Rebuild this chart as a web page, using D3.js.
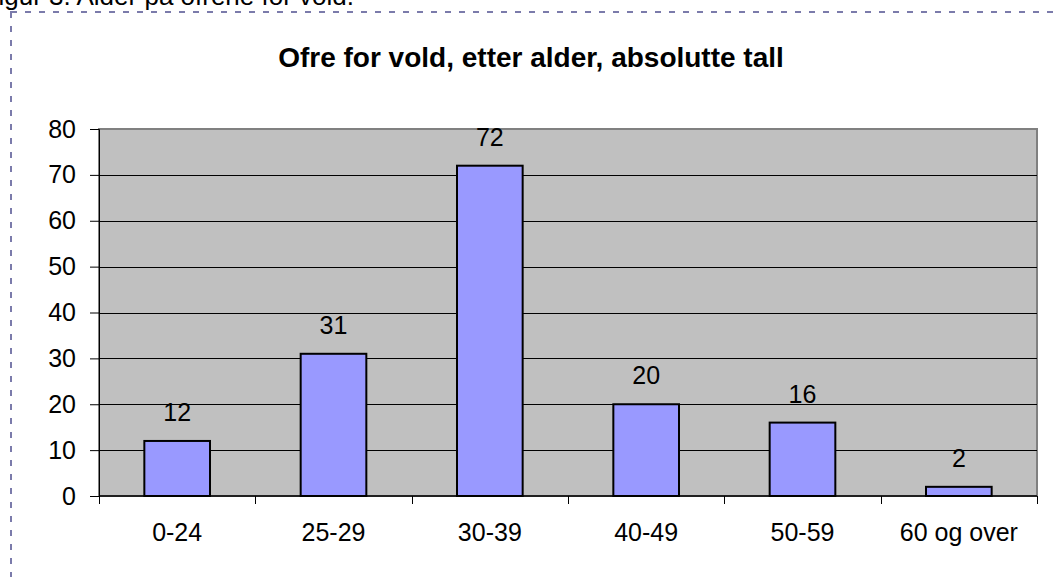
<!DOCTYPE html>
<html>
<head>
<meta charset="utf-8">
<script src="https://cdn.jsdelivr.net/npm/d3@7"></script>
<style>
  body { margin: 0; background: #fff; }
  svg { display: block; font-family: Arial, "Liberation Sans", sans-serif; }
</style>
</head>
<body>
<div id="chart"></div>
<script>
const categories = ["0-24", "25-29", "30-39", "40-49", "50-59", "60 og over"];
const values = [12, 31, 72, 20, 16, 2];
const yTicks = [0, 10, 20, 30, 40, 50, 60, 70, 80];
const title = "Ofre for vold, etter alder, absolutte tall";
const caption = "Figur 3. Alder på ofrene for vold.";

const W = 1059, H = 577;
const margin = { top: 129, right: 22, bottom: 81, left: 99 };
const width = W - margin.left - margin.right;
const height = H - margin.top - margin.bottom;
const fs = 25;

const svg = d3.select("#chart").append("svg")
  .attr("width", W)
  .attr("height", H);

// caption, cut at the top edge as in the document
svg.append("text")
  .attr("x", 354)
  .attr("y", 5)
  .attr("text-anchor", "end")
  .attr("font-size", 26)
  .text(caption);

// dashed frame of the embedded chart
svg.append("rect")
  .attr("x", 11)
  .attr("y", 12)
  .attr("width", W + 20)
  .attr("height", H + 20)
  .attr("fill", "none")
  .attr("stroke", "#7b7bab")
  .attr("stroke-width", 2)
  .attr("stroke-dasharray", "6,8");

svg.append("text")
  .attr("x", 531)
  .attr("y", 67)
  .attr("text-anchor", "middle")
  .attr("font-size", 28)
  .attr("font-weight", "bold")
  .text(title);

const g = svg.append("g")
  .attr("transform", `translate(${margin.left},${margin.top})`);

const x = d3.scaleBand().domain(categories).range([0, width]).paddingInner(0.58).paddingOuter(0.29);
const band = d3.scaleBand().domain(categories).range([0, width]);
const y = d3.scaleLinear().domain([0, 80]).range([height, 0]);

// plot area
g.append("rect")
  .attr("width", width)
  .attr("height", height)
  .attr("fill", "#c0c0c0")
  .attr("stroke", "#808080")
  .attr("stroke-width", 2);

// gridlines
g.selectAll(".grid")
  .data(yTicks.slice(1, -1))
  .enter()
  .append("line")
  .attr("x1", 0)
  .attr("x2", width)
  .attr("y1", d => Math.round(y(d)) + 0.5)
  .attr("y2", d => Math.round(y(d)) + 0.5)
  .attr("stroke", "#000")
  .attr("stroke-width", 1);

// bars
g.selectAll(".bar")
  .data(values)
  .enter()
  .append("rect")
  .attr("x", (d, i) => x(categories[i]))
  .attr("y", d => y(d))
  .attr("width", x.bandwidth())
  .attr("height", d => height - y(d))
  .attr("fill", "#9999ff")
  .attr("stroke", "#000")
  .attr("stroke-width", 2);

// value labels
g.selectAll(".label")
  .data(values)
  .enter()
  .append("text")
  .attr("x", (d, i) => x(categories[i]) + x.bandwidth() / 2)
  .attr("y", d => y(d) - 20)
  .attr("text-anchor", "middle")
  .attr("font-size", fs)
  .text(d => d);

// y axis
const yAxis = g.append("g")
  .call(d3.axisLeft(y).tickValues(yTicks).tickSize(9).tickPadding(14));
yAxis.select(".domain").attr("stroke", "#000");
yAxis.selectAll("text").attr("font-size", fs).attr("fill", "#000").attr("font-family", "Arial, 'Liberation Sans', sans-serif");

// x axis with ticks at band boundaries
const xAxis = g.append("g").attr("transform", `translate(0,${height})`);
xAxis.append("line").attr("x1", 0).attr("x2", width).attr("stroke", "#000").attr("stroke-width", 1.5);
xAxis.selectAll(".tick")
  .data(d3.range(categories.length + 1))
  .enter()
  .append("line")
  .attr("x1", i => Math.round(i * band.bandwidth()) + 0.5)
  .attr("x2", i => Math.round(i * band.bandwidth()) + 0.5)
  .attr("y1", 0)
  .attr("y2", 8)
  .attr("stroke", "#000");
xAxis.selectAll(".cat")
  .data(categories)
  .enter()
  .append("text")
  .attr("x", d => band(d) + band.bandwidth() / 2)
  .attr("y", 45)
  .attr("text-anchor", "middle")
  .attr("font-size", fs)
  .text(d => d);
</script>
</body>
</html>
